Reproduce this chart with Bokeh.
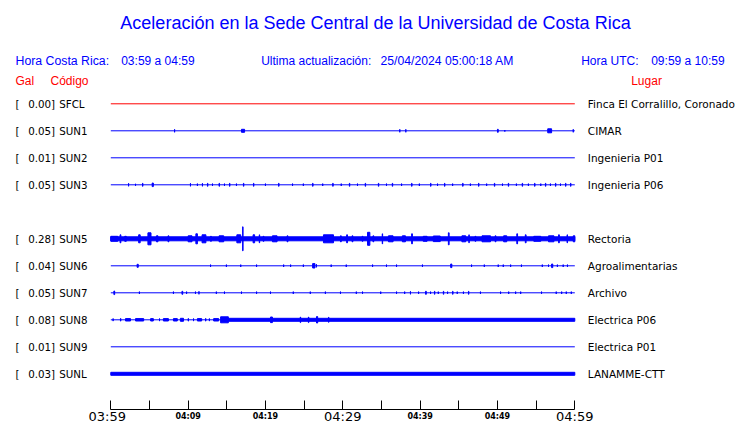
from bokeh.plotting import figure
from bokeh.models import Label, LabelSet, ColumnDataSource, FixedTicker
from bokeh.core.properties import value
from bokeh.embed import file_html
from bokeh.resources import INLINE

# ---------------- data ----------------
codes = ["SFCL", "SUN1", "SUN2", "SUN3", "SUN5", "SUN6", "SUN7", "SUN8", "SUN9", "SUNL"]
rows = [0, 1, 2, 3, 5, 6, 7, 8, 9, 10]
peak_gal = ["0.00]", "0.05]", "0.01]", "0.05]", "0.28]", "0.04]", "0.05]", "0.08]", "0.01]", "0.03]"]
places = ["Finca El Corralillo, Coronado", "CIMAR", "Ingenieria P01", "Ingenieria P06",
          "Rectoria", "Agroalimentarias", "Archivo", "Electrica P06", "Electrica P01",
          "LANAMME-CTT"]
trace_colors = ["#ff0000"] + ["#0000ff"] * 9

# time axis: minutes after 03:59 (window 03:59 - 04:59)
t_start, t_end = 0, 60
tick_minutes = [0, 5, 10, 15, 20, 25, 30, 35, 40, 45, 50, 55, 60]
small_tick_minutes = [10, 20, 40, 50]
small_tick_labels = ["04:09", "04:19", "04:39", "04:49"]
big_tick_minutes = [0, 30, 60]
big_tick_labels = ["03:59", "04:29", "04:59"]

# continuous noise band (t0, t1, half amplitude) in relative trace units
sun5_band = [(0, 60, 2.0)]
sun8_band = [(15.2, 60, 1.5)]
sunl_band = [(0, 60, 1.5)]

# bursts (t0 [min], t1 [min], half amplitude) in relative trace units
sun1_bursts = [(8.25, 8.25, 1.5), (16.9, 17.3, 1.5), (37.37, 37.37, 1.5), (38.15, 38.15, 1.5),
               (50.0, 50.1, 1.5), (50.95, 50.95, 0.8), (56.5, 57.0, 2.0), (59.8, 59.8, 1.5)]
sun3_bursts = [(2.3, 2.3, 1.5), (3.2, 3.2, 1.0), (4.1, 4.15, 1.5), (5.35, 5.5, 1.8), (10.3, 10.3, 1.5),
               (11.2, 11.2, 1.2), (11.85, 11.85, 1.5), (12.5, 12.55, 1.5), (13.15, 13.15, 1.2),
               (14.0, 14.05, 1.5), (14.7, 14.7, 1.2), (15.35, 15.4, 1.5), (16.25, 16.25, 1.2),
               (17.15, 17.2, 1.5), (18.45, 18.5, 1.5), (20.0, 20.0, 1.2), (21.7, 21.75, 1.5),
               (23.5, 23.5, 1.2), (24.9, 24.9, 1.2), (26.1, 26.15, 1.5), (27.4, 27.4, 1.2),
               (28.7, 28.75, 1.5), (29.8, 29.8, 1.2), (30.85, 30.9, 1.5), (31.9, 31.9, 1.2),
               (32.9, 32.95, 1.5), (34.6, 34.65, 1.5), (35.65, 35.65, 1.2), (36.4, 36.45, 1.5),
               (37.6, 37.6, 1.2), (38.9, 38.95, 1.5), (39.9, 39.9, 1.2), (41.35, 41.4, 1.5),
               (42.25, 42.25, 1.2), (43.15, 43.2, 1.5), (44.2, 44.2, 1.2), (45.5, 45.55, 1.5),
               (46.5, 46.5, 1.2), (47.55, 47.6, 1.5), (48.6, 48.6, 1.2), (49.6, 49.65, 1.5),
               (50.65, 50.65, 1.2), (51.4, 51.45, 1.5), (52.45, 52.45, 1.2), (53.2, 53.25, 1.5),
               (54.0, 54.0, 1.2), (54.8, 54.85, 1.5), (55.6, 55.6, 1.2), (56.2, 56.25, 1.5),
               (56.85, 56.85, 1.2), (57.5, 57.55, 1.5), (58.15, 58.15, 1.2), (58.8, 58.85, 1.5),
               (59.45, 59.5, 1.5)]
sun5_bursts = [(0.0, 0.9, 2.5), (1.2, 1.3, 4), (1.8, 2.0, 2.5), (3.6, 3.8, 4), (4.8, 5.2, 6),
               (5.9, 6.1, 3), (7.4, 7.5, 3), (10.0, 10.5, 3), (11.0, 11.2, 5), (11.8, 12.3, 4),
               (12.9, 13.0, 2.5), (14.0, 14.6, 3), (16.3, 16.8, 4), (17.05, 17.1, 12),
               (18.4, 18.6, 4), (19.2, 19.25, 4), (19.7, 19.8, 2.5), (20.9, 21.5, 3),
               (22.8, 22.9, 3), (27.5, 28.8, 4), (29.7, 29.8, 3), (30.5, 30.6, 4), (31.2, 31.3, 3),
               (32.5, 32.6, 2.5), (33.2, 33.5, 6.5), (33.9, 34.0, 3), (35.1, 35.15, 5),
               (35.9, 36.5, 3), (37.7, 38.1, 3), (38.9, 39.0, 5), (40.4, 40.9, 2.5),
               (41.7, 42.6, 2.8), (43.65, 43.75, 6), (45.4, 45.9, 3), (46.3, 46.35, 4),
               (47.1, 47.2, 2.5), (48.0, 49.1, 3), (49.7, 49.8, 3), (50.8, 51.2, 3),
               (52.5, 52.6, 5), (53.6, 53.7, 4), (54.7, 55.6, 2.5), (56.6, 57.3, 3),
               (57.9, 58.0, 4), (59.0, 59.05, 4), (59.8, 60.0, 3)]
sun6_bursts = [(3.4, 3.55, 1.5), (12.9, 12.9, 1.2), (14.95, 14.95, 1.2), (16.8, 16.8, 1.2),
               (18.85, 18.85, 1.2), (22.35, 22.35, 1.2), (23.25, 23.25, 1.2), (24.9, 24.9, 1.2),
               (26.1, 26.4, 2.2), (26.6, 26.6, 1.5), (28.5, 28.5, 1.2), (30.45, 30.45, 1.2),
               (33.85, 33.85, 1.2), (35.65, 35.65, 1.2), (36.95, 36.95, 1.2), (40.3, 40.3, 1.2),
               (43.95, 44.1, 1.8), (46.65, 46.65, 1.2), (48.3, 48.3, 1.2), (50.1, 50.1, 1.2),
               (50.75, 50.75, 1.2), (51.7, 51.7, 1.2), (53.1, 53.1, 1.2), (55.8, 55.8, 1.2),
               (56.6, 56.6, 1.2), (57.0, 57.15, 1.8), (57.75, 57.75, 1.2), (58.5, 58.5, 1.2),
               (59.05, 59.05, 1.2)]
sun7_bursts = [(0.4, 0.5, 1.8), (3.7, 3.7, 1.2), (8.1, 8.1, 1.2), (9.2, 9.3, 1.5), (9.8, 9.8, 1.2),
               (10.95, 10.95, 1.2), (11.4, 11.4, 1.5), (13.65, 13.65, 1.2), (14.7, 14.7, 1.2),
               (16.9, 16.9, 1.2), (18.85, 18.85, 1.2), (20.65, 20.65, 1.2), (23.6, 23.6, 1.2),
               (25.8, 25.8, 1.2), (27.75, 27.75, 1.2), (29.7, 29.7, 1.2), (31.75, 31.75, 1.2),
               (32.55, 32.55, 1.2), (34.9, 34.9, 1.2), (36.95, 36.95, 1.2), (38.0, 38.0, 1.2),
               (38.75, 38.75, 1.5), (39.8, 39.8, 1.2), (40.7, 40.8, 1.5), (41.35, 41.35, 1.2),
               (41.85, 41.9, 1.5), (42.35, 42.35, 1.2), (43.0, 43.05, 1.5), (43.55, 43.55, 1.2),
               (44.2, 44.25, 1.5), (44.8, 44.8, 1.2), (45.6, 45.6, 1.2), (46.25, 46.3, 1.5),
               (47.8, 47.8, 1.2), (50.4, 50.4, 1.2), (51.45, 51.45, 1.2), (52.35, 52.35, 1.2),
               (53.0, 53.0, 1.2), (55.7, 55.7, 1.2), (57.6, 57.6, 1.2), (58.3, 58.3, 1.2),
               (58.9, 58.9, 1.2), (59.55, 59.55, 1.2)]
sun8_bursts = [(0.3, 0.3, 1.3), (1.25, 1.3, 1.3), (1.9, 2.55, 1.2), (3.2, 4.25, 1.2), (5.15, 5.5, 1.2),
               (6.3, 6.3, 1.3), (6.8, 7.45, 1.2), (8.1, 8.6, 1.2), (9.0, 9.4, 1.5), (10.0, 10.05, 1.3),
               (10.7, 10.7, 1.3), (11.2, 11.75, 1.2), (12.25, 12.3, 1.3), (12.75, 12.75, 1.3),
               (13.3, 13.95, 1.2), (14.2, 15.2, 3.0), (20.65, 20.9, 2.8), (24.5, 24.55, 2.8),
               (25.55, 25.6, 2.8), (26.6, 26.75, 3.2), (28.15, 28.2, 2.5)]

bands = {"SUN5": sun5_band, "SUN8": sun8_band, "SUNL": sunl_band}
bursts = {"SUN1": sun1_bursts, "SUN3": sun3_bursts, "SUN5": sun5_bursts,
          "SUN6": sun6_bursts, "SUN7": sun7_bursts, "SUN8": sun8_bursts}

# ---------------- layout helpers ----------------
W, H = 740, 423
AXIS_PAGE_Y = 409               # page y of the time axis
ROW_PX = 27.0                   # station spacing in px
AMP = 1.0 / ROW_PX              # one relative trace unit = 1/27 of station spacing
PX_PER_MIN = 464.0 / 60.0
X0_PAGE = 110.3                 # page x of 03:59
Y0_PAGE = 103.3                 # page y of first station


def dx(page_x):
    return (page_x - X0_PAGE) / PX_PER_MIN


def dy(page_y):
    return -(page_y - Y0_PAGE) / ROW_PX


p = figure(width=W, height=H, x_range=(dx(0), dx(W)), y_range=(dy(H), dy(0)),
           output_backend="svg", toolbar_location=None, y_axis_location=None,
           min_border_left=0, min_border_right=0, min_border_top=0,
           min_border_bottom=0)
p.xgrid.visible = False
p.ygrid.visible = False
p.outline_line_color = None
p.background_fill_color = "white"
p.border_fill_color = "white"

# baselines
base_src = ColumnDataSource(dict(
    x0=[t_start] * len(codes), x1=[t_end] * len(codes),
    y=[-r for r in rows], color=trace_colors))
p.segment(x0="x0", y0="y", x1="x1", y1="y", color="color", line_width=1, source=base_src)

# bands and bursts
L, R, B, T = [], [], [], []
for code, r in zip(codes, rows):
    for (a0, a1, a) in bands.get(code, []) + bursts.get(code, []):
        L.append(a0)
        R.append(a1)
        B.append(-r - a * AMP)
        T.append(-r + a * AMP)
p.quad(left=L, right=R, bottom=B, top=T, fill_color="#0000ff",
       line_color="#0000ff", line_width=1)

# axis (placed inside the frame at a fixed position)
ax = p.xaxis[0]
ax.fixed_location = dy(AXIS_PAGE_Y)
ax.ticker = FixedTicker(ticks=tick_minutes)
overrides = {t: "" for t in tick_minutes}
overrides.update(dict(zip(small_tick_minutes, small_tick_labels)))
ax.major_label_overrides = overrides
ax.bounds = (t_start, t_end)
ax.minor_tick_line_color = None
ax.major_tick_in = 9
ax.major_tick_out = 0
ax.major_label_standoff = 2
ax.major_label_text_font = "DejaVu Sans"
ax.major_label_text_font_size = "8px"
ax.major_label_text_font_style = "bold"
ax.major_label_text_color = "black"
ax.axis_line_color = "black"
ax.major_tick_line_color = "black"

# large tick labels
big_shift = [-3.5, 0, 0]
for t, txt, sh in zip(big_tick_minutes, big_tick_labels, big_shift):
    p.add_layout(Label(x=t, y=dy(416.3), text=txt, x_offset=sh, text_align="center",
                       text_baseline="middle", text_font="DejaVu Sans",
                       text_font_size="13px", text_color="black"))

# station labels
n = len(codes)
lab_src = ColumnDataSource(dict(
    y=[-r for r in rows], br=["["] * n, gal=peak_gal, code=codes, place=places,
    xb=[dx(15)] * n, xg=[dx(27.7)] * n, xc=[dx(58.7)] * n, xp=[dx(587.3)] * n))
for xcol, tcol, fs in [("xb", "br", "10.3px"), ("xg", "gal", "10.3px"),
                       ("xc", "code", "10.3px"), ("xp", "place", "10.5px")]:
    p.add_layout(LabelSet(x=xcol, y="y", text=tcol, source=lab_src, text_align="left",
                          text_baseline="middle", text_font=value("DejaVu Sans"),
                          text_font_size=fs, text_color="black"))

# header texts
BLUE = "#0000ff"
RED = "#ff0000"


def label(px, py, text, color, size, align="left", font="Liberation Sans"):
    p.add_layout(Label(x=dx(px), y=dy(py), text=text, text_color=color,
                       text_font=font, text_font_size=size, text_align=align,
                       text_baseline="middle"))


label(375, 22, "Aceleración en la Sede Central de la Universidad de Costa Rica", BLUE, "18px", "center")
label(15, 60.5, "Hora Costa Rica:", BLUE, "12.3px")
label(120.7, 60.5, "03:59 a 04:59", BLUE, "12px")
label(260.7, 60.5, "Ultima actualización:", BLUE, "12px")
label(380, 60.5, "25/04/2024 05:00:18 AM", BLUE, "12.2px")
label(580.7, 60.5, "Hora UTC:", BLUE, "12px")
label(650.7, 60.5, "09:59 a 10:59", BLUE, "12px")
label(15, 80.5, "Gal", RED, "12px")
label(50, 80.5, "Código", RED, "12px")
label(630.7, 80.5, "Lugar", RED, "12px")

open("out.html", "w").write(file_html(p, INLINE))
